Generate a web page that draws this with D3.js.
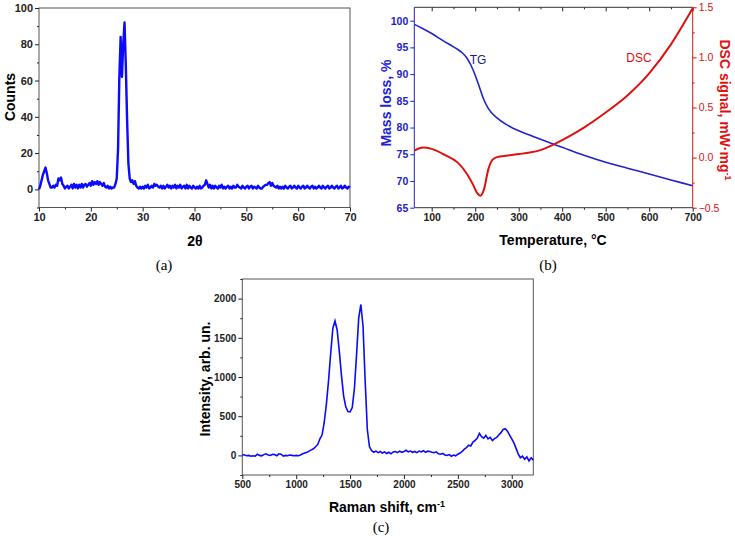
<!DOCTYPE html>
<html>
<body style="margin:0;background:#fff">
<div id="chart"></div>
<script src="https://d3js.org/d3.v7.min.js"></script>
<style>
text { font-family: "Liberation Sans", Arial, sans-serif; }
.cap { font-family: "Liberation Serif", "Times New Roman", serif; font-size: 15px; }
.title { font-size: 14px; font-weight: bold; }
</style>
<script>
// (a) XRD pattern, 2theta grid from 10 to 70 in steps of 0.25
var xrdStart = 10, xrdStep = 0.25;
var xrdCounts = [
  0, 2, 5, 8, 10, 12, 9, 5,          // 10
  3, 1, 1, 2, 1, 2.5, 2, 6,          // 12
  5, 6.5, 3, 2, 0.5, 1.5, 2, 0.5,    // 14
  1.5, 2.5, 0.5, 3, 1, 2.5, 0.5, 2.5, // 16
  1, 3, 1, 2.5, 3, 1.5, 2.5, 3.5,    // 18
  2, 4.5, 2.5, 4, 3, 4.5, 2.5, 4,    // 20
  3, 2, 3.5, 1.5, 1, 2, 0.5, 1.5,    // 22
  0.5, 1, 1, 3, 6, 22, 62, 84,       // 24
  62, 80, 92, 68, 38, 14, 6, 4,      // 26
  5, 3, 4.5, 2, 1, 0.5, 1.5, 0.5,    // 28
  1.5, 0.5, 2, 1, 2.5, 0.5, 1, 2,    // 30
  1, 3, 2, 2.5, 1.5, 1, 2, 0.5,      // 32
  2, 0.5, 1.5, 2.5, 1, 2, 0.5, 2,    // 34
  1, 2.5, 0.5, 2, 1, 2.5, 0.5, 1.5,  // 36
  2, 0.5, 2.5, 0.5, 2, 1, 0.5, 2,    // 38
  1, 0.5, 1.5, 0.5, 2, 0.5, 1, 2,    // 40
  2.5, 5, 3, 1, 2.5, 0.5, 2, 0.5,    // 42
  2, 1, 0.5, 2, 1, 2.5, 0.5, 1.5,    // 44
  0.5, 1.5, 2, 0.5, 1.5, 0.5, 2, 1,  // 46
  1, 2.5, 1.5, 1, 0.5, 2, 1, 0.5,    // 48
  1.5, 2, 0.5, 1.5, 2, 0.5, 1.5, 1,  // 50
  0.5, 2, 1, 0.5, 0.5, 1.5, 2, 2.5,  // 52
  2.5, 3.5, 4, 2, 3.5, 2, 1.5, 1,    // 54
  2, 0.5, 1.5, 0.5, 1.5, 0.5, 2, 1,  // 56
  0.5, 1.5, 2, 0.5, 1, 2, 1, 0.5,    // 58
  2, 1, 0.5, 1.5, 2, 0.5, 1, 2,      // 60
  1, 0.5, 1.5, 2, 0.5, 1.5, 0.5, 1,  // 62
  2, 1, 0.5, 2, 1, 0.5, 1.5, 2,      // 64
  0.5, 1, 2, 1, 0.5, 1.5, 2, 0.5,    // 66
  1, 2, 0.5, 1, 2, 1, 0.5, 1.5,      // 68
  1                                  // 70
];
var xrdTicks = [10, 20, 30, 40, 50, 60, 70];
var countTicks = [0, 20, 40, 60, 80, 100];

// (b) thermal analysis
var tgTemp = [60, 80, 100, 125, 150, 160, 170, 180, 190, 200, 210, 220, 230, 250, 275, 300, 325, 350, 400, 450, 500, 550, 600, 650, 700];
var tgMass = [99.3, 98.5, 97.6, 96.3, 95.1, 94.6, 94.0, 93.1, 91.7, 89.8, 87.5, 85.2, 83.6, 81.8, 80.4, 79.4, 78.6, 77.8, 76.3, 74.8, 73.5, 72.4, 71.3, 70.2, 69.1];
var dscTemp = [60, 80, 100, 130, 160, 180, 195, 205, 212, 220, 230, 240, 250, 275, 300, 325, 350, 375, 400, 425, 450, 500, 550, 600, 650, 700];
var dscSignal = [0.07, 0.10, 0.087, 0.027, -0.05, -0.156, -0.27, -0.356, -0.38, -0.32, -0.12, -0.02, 0.005, 0.02, 0.035, 0.05, 0.075, 0.12, 0.175, 0.235, 0.30, 0.45, 0.62, 0.84, 1.13, 1.49];
var tempTicks = [100, 200, 300, 400, 500, 600, 700];
var massTicks = [65, 70, 75, 80, 85, 90, 95, 100];
var dscTicks = [-0.5, 0.0, 0.5, 1.0, 1.5];

// (c) Raman spectrum, shift grid from 500 to 3200 in steps of 20
var ramanStart = 500, ramanStep = 20;
var ramanIntensity = [
  10, 5, -5, 0, -10, -5, -10, 15, 0, -5,                 // 500
  10, 20, 5, 0, 15, 10, -5, 20, 15, -10,                 // 700
  0, -5, 5, 0, -5, 0, -5, 5, 20, 30,                     // 900
  40, 55, 70, 85, 110, 140, 210, 260, 420, 650,          // 1100
  950, 1300, 1620, 1715, 1600, 1330, 1020, 760, 620, 560, // 1300
  555, 610, 850, 1280, 1750, 1925, 1650, 950, 330, 110,  // 1500
  60, 40, 55, 35, 50, 30, 45, 25, 40, 20,                // 1700
  45, 50, 35, 55, 40, 50, 65, 45, 55, 40,                // 1900
  50, 35, 55, 45, 60, 40, 55, 50, 40, 35,                // 2100
  45, 20, 15, 25, 5, 0, 10, -10, 5, -5,                  // 2300
  15, 30, 50, 80, 100, 130, 120, 170, 190, 220,          // 2500
  280, 240, 220, 255, 210, 230, 190, 215, 230, 260,      // 2700
  290, 330, 340, 310, 260, 210, 160, 90, 20, -30,        // 2900
  -10, -50, -20, -70, -30,                               // 3100
  -60                                                    // 3200
];
var ramanTicks = [500, 1000, 1500, 2000, 2500, 3000];
var intensityTicks = [0, 500, 1000, 1500, 2000];

var svg = d3.select("#chart").append("svg").attr("width", 735).attr("height", 542);
svg.append("rect").attr("width", 735).attr("height", 542).attr("fill", "#fff");

function drawAxis(g, axisFn, scale, tr, major, minor, color, fontSize, bold, fmt) {
  var a = g.append("g").attr("transform", tr);
  var ax = axisFn(scale).tickValues(major).tickSize(4).tickSizeOuter(0).tickPadding(2);
  if (fmt) ax.tickFormat(fmt);
  a.call(ax);
  if (minor) a.append("g").call(axisFn(scale).tickValues(minor).tickSize(2).tickSizeOuter(0).tickFormat(""));
  a.selectAll(".domain").remove();
  a.selectAll("line").attr("stroke", color);
  a.selectAll("text").attr("fill", color)
    .style("font-size", fontSize + "px")
    .style("font-weight", bold ? "bold" : "normal");
  return a;
}

// ---------- (a) ----------
var xa = d3.scaleLinear().domain([10, 70]).range([39, 350]);
var ya = d3.scaleLinear().domain([-10, 100]).range([207.5, 8]);
var ga = svg.append("g");
ga.append("rect").attr("x", 39).attr("y", 8).attr("width", 311).attr("height", 199.5)
  .attr("fill", "none").attr("stroke", "#555");
drawAxis(ga, d3.axisBottom, xa, "translate(0,207.5)", xrdTicks, [15, 25, 35, 45, 55, 65], "#222", 11, true);
drawAxis(ga, d3.axisLeft, ya, "translate(39,0)", countTicks, [-10, 10, 30, 50, 70, 90], "#222", 11, true);

ga.append("path")
  .datum(xrdCounts)
  .attr("fill", "none").attr("stroke", "#0a0aff").attr("stroke-width", 2.4)
  .attr("stroke-linejoin", "round")
  .attr("d", d3.line()
    .x(function(d, i) { return xa(xrdStart + i * xrdStep); })
    .y(function(d) { return ya(d); }));

ga.append("text").attr("class", "title").attr("text-anchor", "middle")
  .attr("transform", "translate(15,97) rotate(-90)").text("Counts");
ga.append("text").attr("class", "title").attr("text-anchor", "middle")
  .attr("x", 195).attr("y", 246).text("2θ");
ga.append("text").attr("class", "cap").attr("text-anchor", "middle")
  .attr("x", 164).attr("y", 270).text("(a)");

// ---------- (b) ----------
var xb = d3.scaleLinear().domain([60, 700]).range([414.3, 692.7]);
var yl = d3.scaleLinear().domain([65, 102.5]).range([207.7, 7.3]);
var yr = d3.scaleLinear().domain([-0.5, 1.5]).range([207.7, 7.3]);
var blue = "#2222c8", red = "#e01010";
var gb = svg.append("g");
drawAxis(gb, d3.axisBottom, xb, "translate(0,207.7)", tempTicks, [150, 250, 350, 450, 550, 650], "#222", 10.5, true);
drawAxis(gb, d3.axisBottom, xb, "translate(0,7.3)", tempTicks, [150, 250, 350, 450, 550, 650], "#222", 10.5, true, function() { return ""; });
drawAxis(gb, d3.axisLeft, yl, "translate(414.3,0)", massTicks, null, blue, 10.5, true);
drawAxis(gb, d3.axisRight, yr, "translate(692.7,0)", dscTicks, [-0.25, 0.25, 0.75, 1.25], red, 10.5, false, d3.format(".1f"));
gb.append("line").attr("x1", 414.3).attr("x2", 692.7).attr("y1", 7.3).attr("y2", 7.3).attr("stroke", "#333");
gb.append("line").attr("x1", 414.3).attr("x2", 692.7).attr("y1", 207.7).attr("y2", 207.7).attr("stroke", "#333");
gb.append("line").attr("x1", 414.3).attr("x2", 414.3).attr("y1", 7.3).attr("y2", 207.7).attr("stroke", blue);
gb.append("line").attr("x1", 692.7).attr("x2", 692.7).attr("y1", 7.3).attr("y2", 207.7).attr("stroke", red);

gb.append("path")
  .datum(tgTemp)
  .attr("fill", "none").attr("stroke", blue).attr("stroke-width", 1.6)
  .attr("d", d3.line().curve(d3.curveMonotoneX)
    .x(function(d) { return xb(d); })
    .y(function(d, i) { return yl(tgMass[i]); }));
gb.append("path")
  .datum(dscTemp)
  .attr("fill", "none").attr("stroke", red).attr("stroke-width", 2)
  .attr("d", d3.line().curve(d3.curveMonotoneX)
    .x(function(d) { return xb(d); })
    .y(function(d, i) { return yr(dscSignal[i]); }));

gb.append("text").attr("x", 478).attr("y", 64).attr("text-anchor", "middle")
  .attr("fill", "#1a1a90").style("font-size", "12px").text("TG");
gb.append("text").attr("x", 639).attr("y", 62).attr("text-anchor", "middle")
  .attr("fill", red).style("font-size", "12px").text("DSC");

gb.append("text").attr("class", "title").attr("text-anchor", "middle").attr("fill", blue)
  .attr("transform", "translate(391,103) rotate(-90)").text("Mass loss, %");
var dt = gb.append("text").attr("class", "title").attr("text-anchor", "middle").attr("fill", red)
  .attr("transform", "translate(720,110) rotate(90)");
dt.append("tspan").text("DSC signal, mW·mg");
dt.append("tspan").attr("dy", -5).style("font-size", "9px").text("-1");
gb.append("text").attr("class", "title").attr("text-anchor", "middle")
  .attr("x", 553).attr("y", 245).text("Temperature, °C");
gb.append("text").attr("class", "cap").attr("text-anchor", "middle")
  .attr("x", 548).attr("y", 270).text("(b)");

// ---------- (c) ----------
var xc = d3.scaleLinear().domain([500, 3200]).range([242.3, 533.3]);
var yc = d3.scaleLinear().domain([-250, 2250]).range([475, 279]);
var gc = svg.append("g");
gc.append("rect").attr("x", 242.3).attr("y", 279).attr("width", 291).attr("height", 196)
  .attr("fill", "none").attr("stroke", "#555");
drawAxis(gc, d3.axisBottom, xc, "translate(0,475)", ramanTicks, [750, 1250, 1750, 2250, 2750], "#222", 10, true, d3.format("d"));
drawAxis(gc, d3.axisLeft, yc, "translate(242.3,0)", intensityTicks, [-250, 250, 750, 1250, 1750, 2250], "#222", 10, true, d3.format("d"));

gc.append("path")
  .datum(ramanIntensity)
  .attr("fill", "none").attr("stroke", "#0a0aff").attr("stroke-width", 1.6)
  .attr("d", d3.line()
    .x(function(d, i) { return xc(ramanStart + i * ramanStep); })
    .y(function(d) { return yc(d); }));

gc.append("text").attr("class", "title").attr("text-anchor", "middle")
  .attr("transform", "translate(210,379) rotate(-90)").text("Intensity, arb. un.");
var rt = gc.append("text").attr("class", "title").attr("text-anchor", "middle")
  .attr("x", 387).attr("y", 512);
rt.append("tspan").text("Raman shift, cm");
rt.append("tspan").attr("dy", -5).style("font-size", "9px").text("-1");
gc.append("text").attr("class", "cap").attr("text-anchor", "middle")
  .attr("x", 381).attr("y", 532).text("(c)");
</script>
</body>
</html>
